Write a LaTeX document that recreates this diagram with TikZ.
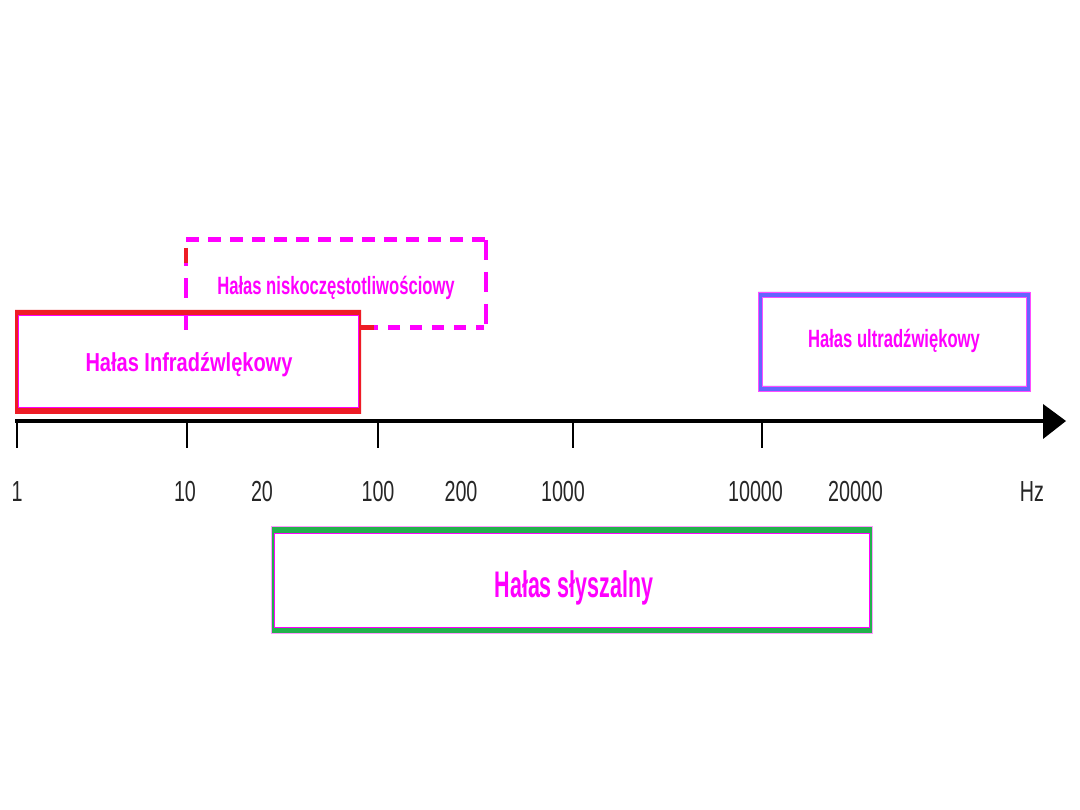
\documentclass[tikz,border=0pt]{standalone}
\usepackage{fontspec}
\setmainfont{Liberation Sans}
\newfontfamily\lblfont[FakeStretch=0.68]{Liberation Sans}
\newfontfamily\infrafont[FakeStretch=0.77]{Liberation Sans Bold}
\newfontfamily\boxfont[FakeStretch=0.665]{Liberation Sans Bold}
\newfontfamily\bigfont[FakeStretch=0.58]{Liberation Sans Bold}
\definecolor{infrared}{HTML}{EE1C25}
\definecolor{mag}{HTML}{FF00FF}
\definecolor{aud}{HTML}{22B14C}
\definecolor{ultra}{HTML}{6464FF}
\begin{document}
\begin{tikzpicture}[x=1pt,y=-1pt,
  tick/.style={line width=1.6pt,black},
  ticklbl/.style={font=\lblfont\fontsize{29}{32}\selectfont,text=black!85,inner sep=0pt,anchor=base},
  boxlbl/.style={font=\boxfont\fontsize{25}{28}\selectfont,text=mag,inner sep=0pt,anchor=base},
  infralbl/.style={font=\infrafont\fontsize{26}{29}\selectfont,text=mag,inner sep=0pt,anchor=base},
  biglbl/.style={font=\bigfont\fontsize{37}{40}\selectfont,text=mag,inner sep=0pt,anchor=base},
  axisline/.style={line width=4pt,black}]
\useasboundingbox (0,0) rectangle (1080,810);
\fill[white] (0,0) rectangle (1080,810);

% dashed low-frequency box
\draw[mag,line width=5pt,dash pattern=on 13pt off 9pt] (186,240) -- (486,240);
\draw[mag,line width=4pt,dash pattern=on 20pt off 12pt] (486,240) -- (486,328);
\draw[mag,line width=5pt,dash pattern=on 12pt off 10pt,dash phase=4pt] (484,328) -- (374,328);
\draw[mag,line width=4pt,dash pattern=on 20pt off 12pt] (186,330) -- (186,248);
\draw[infrared,line width=4pt] (186,248) -- (186,263);
\draw[infrared,line width=5pt] (360,328) -- (374,328);
\node[boxlbl] (low) at (336,295) {Hałas niskoczęstotliwościowy};

% infrasound box
\fill[infrared,even odd rule] (15,310) rectangle (361,414) (18,316) rectangle (358,408);
\draw[mag,line width=1pt] (18,316) rectangle (358,408);
\node[infralbl] (infra) at (189,372) {Hałas Infradźwlękowy};

% ultrasound box
\fill[ultra,even odd rule] (758,292) rectangle (1030,391) (762,297) rectangle (1026,386);
\draw[mag!70,line width=0.4pt] (758,292) rectangle (1030,391);
\draw[mag!70,line width=0.4pt] (762,297) rectangle (1026,386);
\node[boxlbl] (ultra) at (894,348) {Hałas ultradźwiękowy};

% axis
\coordinate (a0) at (15,421);
\coordinate (a1) at (1044,421);
\coordinate (tip) at (1066,421);
\draw[axisline] (a0) -- (a1);
\fill[black] (1043,404) -- (tip) -- (1043,439) -- cycle;
\foreach \x/\n in {17/t1,187/t10,378/t100,573/t1000,762/t10000}{
  \coordinate (\n) at (\x,421);
  \draw[tick] (\n) -- ++(0,27);
}
\node[ticklbl] (l1) at (17,501) {1};
\node[ticklbl] (l10) at (185,501) {10};
\node[ticklbl] (l20) at (262,501) {20};
\node[ticklbl] (l100) at (378,501) {100};
\node[ticklbl] (l200) at (461,501) {200};
\node[ticklbl] (l1000) at (563,501) {1000};
\node[ticklbl] (l10000) at (755.5,501) {10000};
\node[ticklbl] (l20000) at (855.5,501) {20000};
\node[ticklbl] (lhz) at (1032,501) {Hz};

% audible box
\fill[aud,even odd rule] (271,526) rectangle (872,633) (274,533) rectangle (869,627);
\draw[mag,line width=1pt] (274,533) rectangle (869,627);
\draw[mag!40,line width=0.5pt] (271,526) rectangle (872,633);
\node[biglbl] (aud) at (574,597) {Hałas słyszalny};
\end{tikzpicture}
\end{document}
